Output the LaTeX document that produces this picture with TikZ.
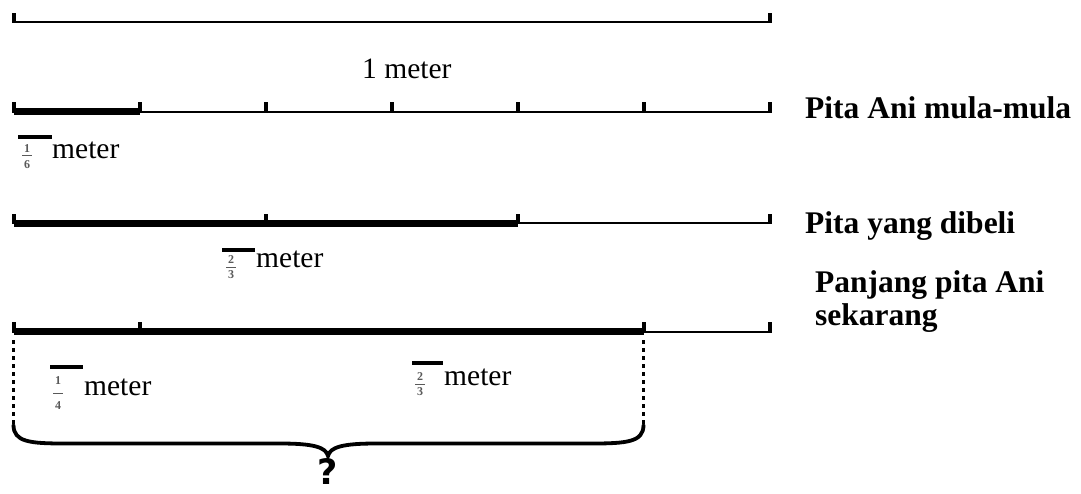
\documentclass[tikz,border=0pt]{standalone}
\usepackage{fontspec}
\setmainfont{Liberation Serif}
\newfontfamily\qfont{DejaVu Sans}
\begin{document}
\begin{tikzpicture}[x=1pt,y=-1pt,
  thinline/.style={line width=2pt},
  thickbar/.style={line width=7.5pt},
  ovbar/.style={line width=3.2pt},
  fracline/.style={line width=0.9pt, draw=gray!70!black},
  dots/.style={line width=3.5pt, dash pattern=on 3.5pt off 4.5pt},
  bracepath/.style={line width=3.8pt, line cap=round},
  lbl/.style={font=\fontsize{29.5}{34}\selectfont, inner sep=0pt, anchor=base west},
  blbl/.style={font=\bfseries\fontsize{31.5}{33}\selectfont, inner sep=0pt, anchor=base west, align=left},
  digit/.style={font=\bfseries\fontsize{12}{12}\selectfont, text=gray!70!black, inner sep=0pt},
  qmark/.style={font=\qfont\bfseries\fontsize{35}{35}\selectfont, inner sep=0pt, anchor=base}
]
\useasboundingbox (0,0) rectangle (1081,493);

% ---------- ruler 1 : 1 meter ----------
\coordinate (a0) at (14,21.5);
\coordinate (a1) at (770,21.5);
\draw[thinline] (a0) -- (a1);
\foreach \x in {14,770} \fill (\x-2.2,13) rectangle (\x+2.2,22.5);
\node[lbl] (onem) at (362,78) {1 meter};

% ---------- ruler 2 : Pita Ani mula-mula ----------
\coordinate (b0) at (14,111.5);
\coordinate (b1) at (770,111.5);
\coordinate (b2) at (140,111.5);
\draw[thinline] (b0) -- (b1);
\draw[thickbar] (b0) -- (b2);
\foreach \x in {14,140,266,392,518,644,770} \fill (\x-2.2,102) rectangle (\x+2.2,112.5);
\node[blbl] (lab1) at (805,118) {Pita Ani mula-mula};
% fraction 1/6
\draw[ovbar] (18,137) -- (52,137);
\node[digit] (f1n) at (27,148.5) {1};
\draw[fracline] (22,155.5) -- (32,155.5);
\node[digit] (f1d) at (27,164.5) {6};
\node[lbl] (m1) at (52,158) {meter};

% ---------- ruler 3 : Pita yang dibeli ----------
\coordinate (c0) at (14,222.7);
\coordinate (c1) at (770,222.7);
\coordinate (c2) at (518,223.5);
\coordinate (c3) at (14,223.5);
\draw[thinline] (c0) -- (c1);
\draw[thickbar] (c3) -- (c2);
\foreach \x in {14,266,518,770} \fill (\x-2.2,213.5) rectangle (\x+2.2,224);
\node[blbl] (lab2) at (805,233) {Pita yang dibeli};
% fraction 2/3
\draw[ovbar] (222,250) -- (255,250);
\node[digit] (f2n) at (231,260) {2};
\draw[fracline] (226,267.5) -- (236,267.5);
\node[digit] (f2d) at (231,275) {3};
\node[lbl] (m2) at (256,267) {meter};

% ---------- ruler 4 : Panjang pita Ani sekarang ----------
\coordinate (d0) at (14,332);
\coordinate (d1) at (770,332);
\coordinate (d2) at (644,331.5);
\coordinate (d3) at (14,331.5);
\draw[thinline] (d0) -- (d1);
\draw[thickbar] (d3) -- (d2);
\foreach \x in {14,140,644,770} \fill (\x-2.2,322) rectangle (\x+2.2,333);
\node[blbl] (lab3) at (815,325) {Panjang pita Ani\\sekarang};
% fraction 1/4
\draw[ovbar] (50,367) -- (83,367);
\node[digit] (f3n) at (58,381) {1};
\draw[fracline] (53,393) -- (63,393);
\node[digit] (f3d) at (58,406) {4};
\node[lbl] (m3) at (84,395) {meter};
% fraction 2/3
\draw[ovbar] (412,363) -- (443,363);
\node[digit] (f4n) at (420,377) {2};
\draw[fracline] (415,384.5) -- (425,384.5);
\node[digit] (f4d) at (420,392) {3};
\node[lbl] (m4) at (444,385) {meter};

% dotted verticals
\coordinate (e0) at (13.5,340);
\coordinate (e1) at (13.5,425);
\coordinate (g0) at (643.5,340);
\coordinate (g1) at (643.5,425);
\draw[dots] (e0) -- (e1);
\draw[dots] (g0) -- (g1);

% brace
\coordinate (tip) at (328,456);
\draw[bracepath] (e1) .. controls (13.5,442) and (30,443.5) .. (65,443.5) -- (280,443.5)
  .. controls (313,443.5) and (326,447) .. (tip)
  .. controls (330,447) and (343,443.5) .. (376,443.5) -- (591,443.5)
  .. controls (627,443.5) and (643.5,442) .. (g1);
\node[qmark] (q) at (328,484) {?};
\end{tikzpicture}
\end{document}
